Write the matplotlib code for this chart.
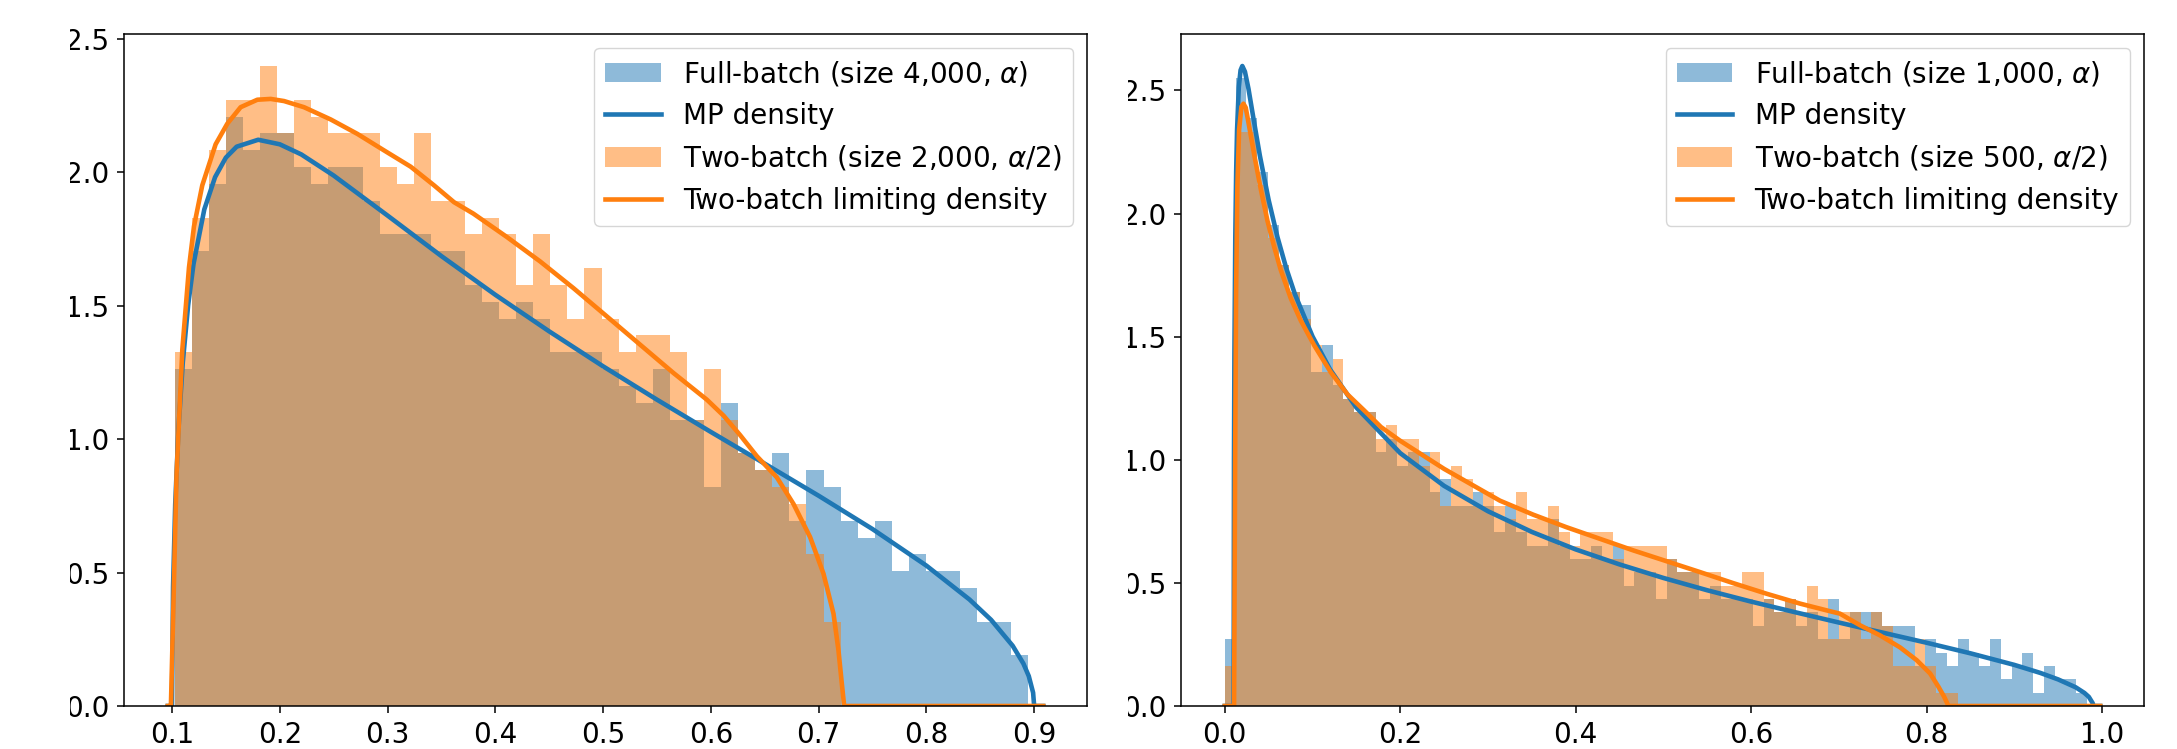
import matplotlib
matplotlib.use('Agg')
import matplotlib.pyplot as plt
import numpy as np
from matplotlib.transforms import Bbox, TransformedBbox

# ---- left panel: histogram counts per bin (50 shared bins) ----
left_range = (0.1025, 0.8947)
left_n_eig = 1000
left_full_counts = [20, 27, 31, 35, 33, 34, 34, 32, 31, 32, 32, 30, 28, 28, 28, 27, 27, 25, 24, 23,
                    24, 23, 21, 21, 21, 20, 19, 18, 20, 17, 17, 13, 18, 15, 14, 15, 11, 14, 13, 11,
                    10, 11, 8, 9, 8, 8, 7, 5, 5, 3]
left_two_counts = [21, 29, 33, 36, 36, 38, 34, 36, 35, 34, 34, 34, 32, 31, 34, 30, 30, 28, 29, 28,
                   25, 28, 25, 23, 26, 23, 21, 22, 22, 21, 17, 20, 17, 15, 14, 13, 12, 9, 5, 0,
                   0, 0, 0, 0, 0, 0, 0, 0, 0, 0]

# left panel densities
left_mp_x = [0.0961, 0.1000, 0.1010, 0.1030, 0.1060, 0.1100, 0.1150, 0.1200, 0.1300, 0.1400,
             0.1500, 0.1600, 0.1800, 0.2000, 0.2200, 0.2500, 0.3000, 0.3500, 0.4000, 0.4500,
             0.5000, 0.5500, 0.6000, 0.6500, 0.7000, 0.7500, 0.8000, 0.8400, 0.8600, 0.8800,
             0.8900, 0.8950, 0.8990, 0.9000, 0.9084]
left_mp_y = [0, 0, 0.446, 0.756, 1.036, 1.286, 1.502, 1.657, 1.861, 1.982,
             2.055, 2.096, 2.122, 2.105, 2.067, 1.988, 1.838, 1.686, 1.541, 1.404,
             1.273, 1.148, 1.027, 0.908, 0.788, 0.663, 0.526, 0.399, 0.323, 0.226,
             0.159, 0.112, 0.050, 0, 0]
left_two_x = [0.0961, 0.0990, 0.1006, 0.1043, 0.1096, 0.1158, 0.1204, 0.1281, 0.1405, 0.1513,
              0.1637, 0.1792, 0.1916, 0.2040, 0.2225, 0.2473, 0.2720, 0.2968, 0.3215, 0.3432,
              0.3617, 0.3797, 0.4106, 0.4416, 0.4725, 0.5035, 0.5344, 0.5653, 0.5963, 0.6118,
              0.6272, 0.6427, 0.6612, 0.6767, 0.6921, 0.7045, 0.7138, 0.7184, 0.7215, 0.7237,
              0.9084]
left_two_y = [0, 0, 0.258, 0.874, 1.336, 1.644, 1.797, 1.951, 2.105, 2.182,
              2.244, 2.272, 2.275, 2.267, 2.244, 2.198, 2.144, 2.082, 2.021, 1.951,
              1.888, 1.845, 1.758, 1.666, 1.566, 1.460, 1.354, 1.248, 1.148, 1.088,
              1.015, 0.936, 0.857, 0.757, 0.633, 0.496, 0.346, 0.209, 0.085, 0,
              0]

# ---- right panel: histogram counts per bin (80 shared bins) ----
right_range = (0.0, 0.983)
right_n_eig = 1500
right_full_counts = [5, 47, 44, 40, 36, 33, 31, 30, 25, 27, 24, 23, 22, 22, 19, 20, 18, 19, 19, 16,
                     17, 15, 15, 16, 15, 13, 15, 13, 12, 12, 14, 12, 11, 11, 12, 11, 12, 9, 10, 10,
                     8, 11, 10, 10, 8, 9, 8, 8, 8, 6, 8, 7, 8, 6, 7, 5, 8, 5, 7, 7,
                     7, 6, 6, 6, 3, 5, 4, 3, 5, 4, 3, 5, 2, 3, 4, 1, 3, 2, 2, 1]
right_two_counts = [3, 43, 43, 39, 35, 33, 31, 29, 27, 25, 26, 23, 22, 22, 20, 21, 20, 20, 18, 19,
                    15, 18, 17, 15, 16, 15, 14, 16, 14, 14, 15, 13, 12, 13, 13, 13, 11, 12, 12, 12,
                    12, 11, 10, 10, 10, 10, 9, 9, 10, 10, 8, 7, 8, 7, 9, 8, 5, 7, 7, 5,
                    7, 6, 3, 3, 5, 3, 1, 1, 0, 0, 0, 0, 0, 0, 0, 0, 0, 0, 0, 0]

right_mp_x = [0.0, 0.0101, 0.0105, 0.011, 0.012, 0.013, 0.014, 0.016, 0.018, 0.020,
              0.023, 0.027, 0.032, 0.04, 0.05, 0.06, 0.07, 0.08, 0.10, 0.12,
              0.15, 0.20, 0.25, 0.30, 0.35, 0.40, 0.45, 0.50, 0.55, 0.60,
              0.65, 0.70, 0.75, 0.80, 0.85, 0.90, 0.93, 0.95, 0.97, 0.98,
              0.985, 0.9895, 0.9899, 0.998]
right_mp_y = [0, 0, 1.0, 1.431, 1.906, 2.172, 2.338, 2.513, 2.582, 2.599,
              2.576, 2.507, 2.401, 2.235, 2.055, 1.905, 1.779, 1.672, 1.501, 1.367,
              1.212, 1.027, 0.894, 0.791, 0.707, 0.636, 0.575, 0.520, 0.470, 0.424,
              0.381, 0.339, 0.298, 0.257, 0.214, 0.167, 0.134, 0.108, 0.076, 0.053,
              0.037, 0.011, 0, 0]
right_two_x = [0.0, 0.0106, 0.0118, 0.0129, 0.0144, 0.0163, 0.0190, 0.0213, 0.0239, 0.0277,
               0.0335, 0.0410, 0.0487, 0.0563, 0.0639, 0.0753, 0.0867, 0.1019, 0.1209, 0.1400,
               0.1590, 0.1780, 0.2000, 0.2500, 0.3136, 0.3516, 0.3896, 0.4276, 0.4656, 0.5036,
               0.5416, 0.5796, 0.6176, 0.6556, 0.6898, 0.7013, 0.7241, 0.7469, 0.7698, 0.7888,
               0.8041, 0.8136, 0.8200, 0.8250, 0.998]
right_two_y = [0, 0, 0.985, 1.679, 2.113, 2.339, 2.434, 2.446, 2.430, 2.356,
               2.240, 2.100, 1.970, 1.865, 1.770, 1.655, 1.565, 1.465, 1.355, 1.265,
               1.200, 1.133, 1.077, 0.963, 0.834, 0.777, 0.726, 0.679, 0.632, 0.588,
               0.544, 0.499, 0.456, 0.416, 0.385, 0.375, 0.328, 0.287, 0.238, 0.186,
               0.132, 0.078, 0.038, 0, 0]

left_labels = ['Full-batch (size 4,000, $\\alpha$)', 'MP density',
               'Two-batch (size 2,000, $\\alpha/2$)', 'Two-batch limiting density']
right_labels = ['Full-batch (size 1,000, $\\alpha$)', 'MP density',
                'Two-batch (size 500, $\\alpha/2$)', 'Two-batch limiting density']

W, H = 2177, 749
fig = plt.figure(figsize=(W / 100, H / 100), dpi=100)


def draw_panel(rect, rng, n_eig, full_counts, two_counts, mp_x, mp_y, two_x, two_y, labels, clip_x):
    ax = fig.add_axes(rect)
    edges = np.linspace(rng[0], rng[1], len(full_counts) + 1)
    width = edges[1] - edges[0]
    centers = (edges[:-1] + edges[1:]) / 2
    full_h = np.array(full_counts) / (n_eig * width)
    two_h = np.array(two_counts) / (n_eig * width)

    ax.hist(centers, bins=edges, weights=full_h, color='C0', alpha=0.5, label=labels[0])
    ax.plot(mp_x, mp_y, color='C0', lw=3.3, label=labels[1])
    ax.hist(centers, bins=edges, weights=two_h, color='C1', alpha=0.5, label=labels[2])
    ax.plot(two_x, two_y, color='C1', lw=3.3, label=labels[3])

    ax.set_yticks([0.0, 0.5, 1.0, 1.5, 2.0, 2.5])
    ax.tick_params(labelsize=20, length=5.3, width=1.1, pad=5.3)
    for sp in ax.spines.values():
        sp.set_linewidth(1.1)
    ax.legend(loc='upper right', fontsize=20)

    # the y tick labels are cut off on the left in the reference
    clip = TransformedBbox(Bbox.from_extents(clip_x, 0, 1, 1), fig.transFigure)
    for t in ax.yaxis.get_major_ticks():
        t.label1.set_clip_box(clip)
        t.label1.set_clip_on(True)
    return ax


y0 = (H - 706) / H
hgt = (706 - 34) / H
draw_panel([124 / W, y0, (1087 - 124) / W, hgt], left_range, left_n_eig,
           left_full_counts, left_two_counts, left_mp_x, left_mp_y, left_two_x, left_two_y,
           left_labels, 70 / W)
draw_panel([1181 / W, y0, (2144 - 1181) / W, hgt], right_range, right_n_eig,
           right_full_counts, right_two_counts, right_mp_x, right_mp_y, right_two_x, right_two_y,
           right_labels, 1128 / W)

fig.savefig('out.png', dpi=100)
